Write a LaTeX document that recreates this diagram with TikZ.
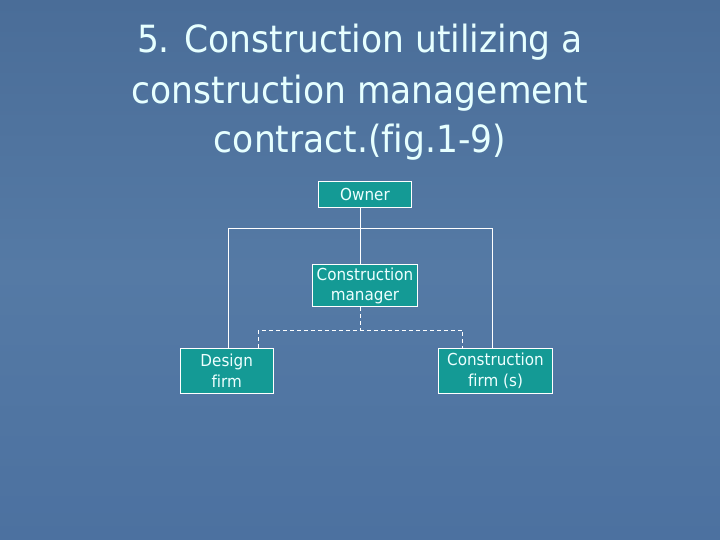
\documentclass[tikz,border=0pt]{standalone}
\usepackage{fontspec}
\setmainfont[FakeStretch=0.92,Ligatures=NoCommon]{DejaVu Sans}
\definecolor{bgtop}{HTML}{4A6D98}
\definecolor{bgmid}{HTML}{557AA5}
\definecolor{bgbot}{HTML}{4C71A0}
\definecolor{boxfill}{HTML}{149A95}
\definecolor{titlecol}{HTML}{E6FFFF}
\definecolor{boxtext}{HTML}{EEFFFF}
\tikzset{
  orgbox/.style={draw=white, line width=0.9pt, fill=boxfill, text=boxtext, align=center,
    inner sep=0pt, font=\fontsize{16.5}{20.5}\selectfont},
  titleline/.style={anchor=base, text=titlecol, inner sep=0pt, font=\fontsize{37.5}{44}\selectfont},
  link/.style={draw=white, line width=0.9pt},
  dlink/.style={draw=white, line width=0.9pt, dash pattern=on 4pt off 3pt}
}
\begin{document}
\begin{tikzpicture}[x=1pt,y=-1pt]
\useasboundingbox (0,0) rectangle (720,540);
\shade[top color=bgtop, bottom color=bgbot, middle color=bgmid] (0,0) rectangle (720,540);
% title
\node[titleline] (t1) at (360,53) {5. Construction utilizing a};
\node[titleline] (t2) at (360,104) {construction management};
\node[titleline] (t3) at (360,153) {contract.(fig.1-9)};
% boxes
\node[orgbox, minimum width=93pt, minimum height=26pt] (owner) at (365,194) {Owner};
\node[orgbox, minimum width=105pt, minimum height=42pt] (cm) at (365,285.7) {Construction\\manager};
\node[orgbox, minimum width=93pt, minimum height=45pt] (design) at (226.7,370.8) {Design\\firm};
\node[orgbox, minimum width=114pt, minimum height=45pt] (cf) at (495.5,370.8) {Construction\\firm (s)};
% connector coordinates
\coordinate (spine) at (360,228.3);
\coordinate (lft) at (228.3,228.3);
\coordinate (rgt) at (492.3,228.3);
\coordinate (dmid) at (360,330.3);
\coordinate (dl) at (258.3,330.3);
\coordinate (dr) at (462.7,330.3);
% solid links
\draw[link] (owner.south -| spine) -- (cm.north -| spine);
\draw[link] (design.north -| lft) -- (lft) -- (rgt) -- (cf.north -| rgt);
% dashed links
\draw[dlink] (cm.south -| dmid) -- (dmid);
\draw[dlink] (design.north -| dl) -- (dl) -- (dr) -- (cf.north -| dr);
\end{tikzpicture}
\end{document}
